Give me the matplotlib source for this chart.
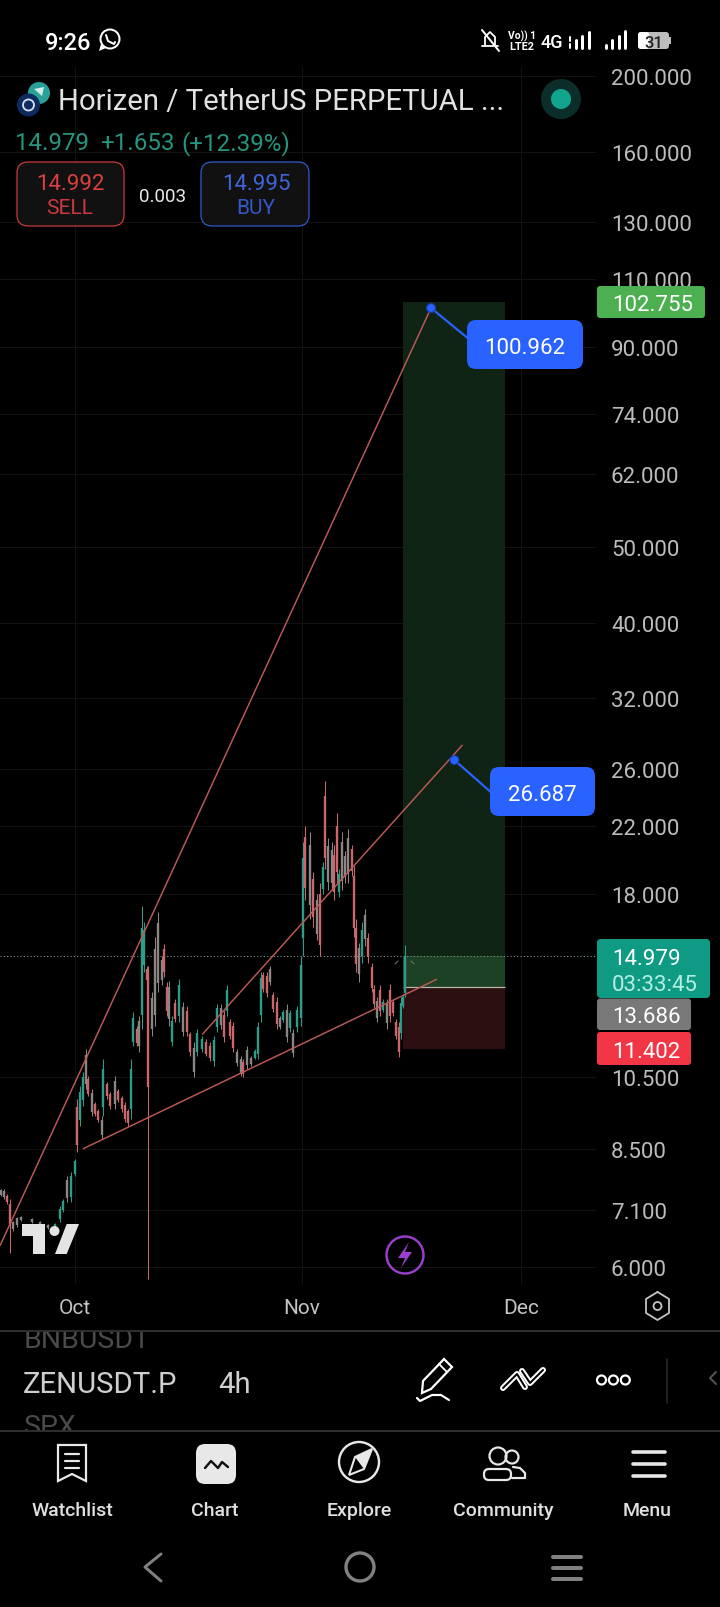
"""ZENUSDT.P 4h chart screenshot, rebuilt: candles on a log price axis plus the phone UI around it."""
import matplotlib
matplotlib.use("Agg")
import matplotlib.pyplot as plt
from matplotlib.patches import Circle, FancyBboxPatch, Polygon, Rectangle

plt.rcParams["font.family"] = ["Roboto", "DejaVu Sans"]

# days counted from 1 Oct
candle_days = [
    -10.1, -9.7, -9.3, -8.9, -8.5, -7.9, -7.4, -5.9, -4.8, -3.7,
    -2.7, -2.05, -1.64, -1.09, -0.55, 0.0, 0.27, 0.68, 1.09, 1.5,
    1.78, 2.33, 2.74, 3.15, 3.69, 3.83, 4.38, 4.79, 5.47, 5.88,
    6.43, 6.84, 7.25, 7.66, 7.93, 8.48, 8.76, 9.17, 9.44, 9.85,
    9.99, 10.53, 10.94, 11.35, 11.9, 12.17, 12.59, 12.86, 13.27, 13.68,
    14.23, 14.77, 15.32, 15.73, 16.28, 16.69, 17.37, 17.92, 18.47, 19.01,
    19.43, 19.97, 20.38, 20.79, 21.2, 21.61, 22.16, 22.71, 22.98, 23.53,
    24.08, 24.62, 25.03, 25.44, 25.72, 26.27, 26.68, 27.09, 27.63, 28.04,
    28.45, 29.0, 29.41, 29.82, 30.37, 30.92, 31.19, 31.46, 32.15, 32.56,
    33.11, 33.52, 33.93, 34.2, 34.61, 35.16, 35.43, 35.84, 36.11, 36.53,
    36.94, 37.35, 37.89, 38.17, 38.44, 38.85, 39.26, 39.67, 40.08, 40.63,
    40.9, 41.31, 41.72, 42.13, 42.68, 43.09, 43.5, 43.91, 44.32, 44.6,
    44.87, 45.14,
]
highs = [
    7.55, 7.55, 7.44, 7.33, 6.88, 6.96, 6.98, 6.94, 6.88, 6.82,
    6.84, 7.18, 7.33, 7.84, 7.95, 8.25, 9.85, 10.23, 10.66, 11.4,
    10.53, 10.14, 9.76, 9.56, 9.36, 11.07, 10.35, 10.05, 10.53, 10.14,
    9.94, 9.76, 9.56, 11.07, 12.7, 12.2, 12.57, 17.35, 16.55, 14.55,
    14.55, 13.5, 15.85, 17.05, 15.0, 15.55, 13.9, 13.92, 12.57, 13.2,
    14.0, 13.1, 12.95, 12.0, 11.63, 12.1, 11.85, 11.74, 11.63, 11.85,
    13.0, 13.0, 12.8, 13.75, 12.46, 12.35, 11.4, 11.17, 11.07, 11.5,
    11.17, 11.4, 12.35, 14.3, 14.3, 14.3, 14.55, 13.5, 13.3, 12.57,
    12.8, 13.0, 12.8, 12.1, 12.95, 15.0, 21.0, 22.0, 21.6, 19.2,
    18.0, 18.6, 19.8, 25.1, 21.2, 21.0, 20.8, 22.85, 19.35, 21.6,
    20.4, 21.8, 20.8, 19.55, 16.7, 15.6, 16.55, 17.2, 16.05, 14.7,
    13.75, 13.3, 13.75, 13.2, 13.2, 13.8, 13.2, 12.46, 12.35, 13.3,
    13.4, 15.5,
]
lows = [
    7.4, 7.33, 7.22, 6.25, 6.68, 6.76, 6.88, 6.84, 6.76, 6.72,
    6.68, 6.86, 7.06, 7.27, 7.27, 7.84, 8.42, 9.1, 9.65, 10.14,
    9.94, 9.36, 9.36, 9.2, 8.75, 9.36, 9.85, 9.56, 9.56, 9.76,
    9.48, 9.2, 9.1, 9.28, 11.5, 11.5, 11.3, 12.1, 14.3, 13.85,
    5.8, 11.85, 12.2, 13.5, 13.75, 14.1, 12.57, 12.2, 11.5, 12.35,
    12.35, 11.85, 11.85, 11.17, 10.5, 11.17, 11.3, 11.17, 11.0, 10.85,
    12.0, 12.1, 11.63, 12.57, 11.74, 11.3, 10.85, 10.53, 10.5, 10.75,
    10.85, 11.07, 11.07, 12.35, 13.5, 13.3, 13.75, 12.7, 12.1, 12.1,
    12.35, 11.63, 12.0, 11.13, 12.0, 12.2, 15.0, 17.7, 16.7, 16.35,
    15.7, 15.0, 18.0, 19.35, 18.2, 18.2, 17.7, 18.6, 17.85, 18.2,
    18.6, 18.6, 19.0, 15.85, 14.3, 13.9, 14.7, 15.45, 14.7, 13.5,
    12.85, 12.35, 12.57, 12.7, 12.1, 12.35, 12.57, 11.74, 11.13, 11.74,
    12.85, 13.3,
]
body_tops = [
    7.52, 7.5, 7.4, 7.22, 6.85, 6.93, 6.96, 6.92, 6.86, 6.8,
    6.81, 7.13, 7.29, 7.76, 7.85, 8.19, 9.6, 10.05, 10.5, 11.2,
    10.45, 10.02, 9.7, 9.5, 9.26, 10.75, 10.28, 9.98, 10.38, 10.08,
    9.87, 9.68, 9.49, 10.75, 12.5, 12.1, 12.4, 16.3, 16.2, 14.45,
    14.4, 13.25, 15.3, 16.5, 14.8, 15.3, 13.7, 13.7, 12.4, 13.05,
    13.75, 12.9, 12.75, 11.9, 11.45, 11.95, 11.75, 11.65, 11.52, 11.7,
    12.85, 12.85, 12.6, 13.55, 12.35, 12.2, 11.3, 11.07, 10.97, 11.38,
    11.12, 11.35, 12.15, 14.05, 14.18, 14.15, 14.42, 13.38, 13.1, 12.5,
    12.73, 12.8, 12.68, 11.95, 12.8, 14.6, 20.0, 21.3, 20.8, 18.8,
    17.7, 18.0, 19.5, 24.0, 20.7, 20.5, 20.2, 22.0, 19.1, 21.0,
    20.1, 21.2, 20.55, 19.0, 16.3, 15.35, 16.2, 16.9, 15.8, 14.5,
    13.6, 13.15, 13.55, 13.1, 13.0, 13.55, 13.1, 12.35, 12.15, 13.05,
    13.3, 14.979,
]
body_bottoms = [
    7.42, 7.38, 7.26, 6.82, 6.72, 6.8, 6.9, 6.86, 6.78, 6.74,
    6.71, 6.91, 7.1, 7.35, 7.37, 7.9, 8.6, 9.25, 9.8, 10.3,
    10.0, 9.48, 9.42, 9.25, 8.85, 9.6, 9.92, 9.63, 9.7, 9.82,
    9.55, 9.28, 9.18, 9.55, 11.65, 11.6, 11.5, 12.6, 14.6, 13.95,
    10.2, 12.1, 12.6, 13.85, 13.95, 14.3, 12.75, 12.45, 11.65, 12.47,
    12.55, 12.0, 12.0, 11.3, 10.65, 11.3, 11.4, 11.25, 11.1, 11.0,
    12.15, 12.25, 11.8, 12.75, 11.85, 11.45, 10.93, 10.62, 10.58, 10.87,
    10.9, 11.12, 11.25, 12.6, 13.62, 13.45, 13.87, 12.82, 12.27, 12.17,
    12.42, 11.82, 12.12, 11.27, 12.15, 12.5, 15.8, 18.3, 17.4, 16.8,
    16.0, 15.5, 18.25, 20.0, 18.65, 18.6, 18.1, 19.2, 18.1, 18.7,
    18.9, 19.1, 19.25, 16.3, 14.65, 14.2, 15.0, 15.75, 14.95, 13.65,
    13.0, 12.5, 12.75, 12.8, 12.3, 12.55, 12.67, 11.85, 11.3, 11.95,
    12.95, 13.45,
]
# u = up, d = down, g = the washed-out grey where the screenshot blends neighbours
candle_tones = (
    "ggddgggggg" "uuuguuduug" "dgddguddgd" "ddduudguud" "dggggddgud" "ugddguuddu"
    "ugduddggdg" "guuuddgddg" "uguguuudgd" "gdudggddug" "ggdddgugdd" "dgdugddddu" "uu"
)
TONE_COLORS = {"u": "#2f9c8a", "d": "#c9676b", "g": "#8b8584"}

price_ticks = [200, 160, 130, 110, 90, 74, 62, 50, 40, 32, 26, 22, 18, 10.5, 8.5, 7.1, 6]
month_days = [0, 31, 61]
month_names = ["Oct", "Nov", "Dec"]

last_price = 14.979
entry_price = 13.686
stop_price = 11.402
target_price = 102.755
position_days = [44.87, 58.8]

# trend lines: (days, prices)
line_a_days, line_a_prices = [-10.26, 48.7], [6.39, 100.962]
line_b_days, line_b_prices = [17.4, 53.0], [11.9, 27.9]
line_c_days, line_c_prices = [1.09, 49.5], [8.5, 14.0]
point_a = (48.7, 100.962)
point_b = (51.9, 26.687)

W, H = 720, 1608
fig = plt.figure(figsize=(W / 100, H / 100), dpi=100, facecolor="black")

# ---- chart ----
ax = fig.add_axes([0, 1 - 1285 / H, 596 / W, (1285 - 68) / H], facecolor="black")
ax.set_yscale("log")
ax.set_xlim(-10.26, 71.27)
ax.set_ylim(5.71, 205.2)
for spine in ax.spines.values():
    spine.set_visible(False)
ax.yaxis.tick_right()
ax.set_yticks(price_ticks)
ax.set_yticklabels([f"{p:.3f}" for p in price_ticks])
ax.minorticks_off()
ax.set_xticks(month_days)
ax.set_xticklabels(month_names)
ax.tick_params(axis="y", length=0, pad=10.8, labelsize=16, labelcolor="#bcbcbc")
ax.tick_params(axis="x", length=0, pad=10, labelsize=15, labelcolor="#c4c4c4")
ax.grid(True, color="#121212", lw=0.8)
ax.set_axisbelow(True)

ax.fill_between(position_days, last_price, target_price, color="#0f2414", lw=0, zorder=1)
ax.fill_between(position_days, entry_price, last_price, color="#1d4124", lw=0, zorder=1)
ax.fill_between(position_days, stop_price, entry_price, color="#2c0f10", lw=0, zorder=1)
ax.hlines(entry_price, *position_days, color="#b9b4a4", lw=0.9, zorder=2)
ax.axhline(last_price, color="#7c968e", lw=0.8, ls=(0, (1, 2)), zorder=2)

candle_colors = [TONE_COLORS[t] for t in candle_tones]
ax.vlines(candle_days, lows, highs, colors=candle_colors, lw=0.75, zorder=3)
ax.vlines(candle_days, body_bottoms, body_tops, colors=candle_colors, lw=1.7, zorder=3)

for days, prices in [(line_a_days, line_a_prices), (line_b_days, line_b_prices),
                     (line_c_days, line_c_prices)]:
    ax.plot(days, prices, color="#bd5a58", lw=1.05, zorder=4, solid_capstyle="butt")

# ---- phone UI on a pixel overlay ----
ui = fig.add_axes([0, 0, 1, 1], facecolor="none")
ui.set_xlim(0, W)
ui.set_ylim(H, 0)
ui.axis("off")


def px_of(day, price):
    x, y = ax.transData.transform((day, price))
    return x, H - y


def text(x, y, s, size, color="#e0e0e0", ha="left", weight="normal", **kw):
    ui.text(x, y, s, fontsize=size, color=color, ha=ha, va="center_baseline", weight=weight, **kw)


def box(x0, y0, x1, y1, fc, ec="none", r=6, lw=1.0, z=5):
    ui.add_patch(FancyBboxPatch((x0, y0), x1 - x0, y1 - y0, boxstyle=f"round,pad=0,rounding_size={r}",
                                fc=fc, ec=ec, lw=lw, zorder=z))


def line(xs, ys, color="#e8e8e8", lw=2.0, z=6, **kw):
    ui.plot(xs, ys, color=color, lw=lw * 0.72, zorder=z, solid_capstyle="round", **kw)


def ring(x, y, r, color="#e8e8e8", lw=2.0, fc="none", z=6):
    ui.add_patch(Circle((x, y), r, fc=fc, ec=color, lw=lw * 0.72, zorder=z))


# blue price notes on the trend lines
BLUE = "#2962ff"
for point, (bx0, by0, bx1, by1), anchor, label in [
    (point_a, (467, 321, 583, 370), (470, 341), "100.962"),
    (point_b, (490, 768, 595, 817), (493, 795), "26.687"),
]:
    px, py = px_of(*point)
    line([px, anchor[0]], [py, anchor[1]], color=BLUE, lw=2.2, z=4)
    ring(px, py, 4.5, color="#163a9c", lw=1.2, fc=BLUE, z=7)
    box(bx0, by0, bx1, by1, BLUE, r=9)
    text((bx0 + bx1) / 2, (by0 + by1) / 2 + 1, label, 16, color="white", ha="center", zorder=8)

# countdown ticks by the last candle
line([395, 398], [965, 962], color="#777777", lw=1)
line([411, 414], [962, 965], color="#777777", lw=1)

# price tags
box(597, 287, 705, 319, "#4caf50", r=3)
text(612, 303, "102.755", 16, color="white", zorder=8)
box(597, 940, 710, 999, "#0f9a83", r=4)
text(612, 957, "14.979", 16, color="white", zorder=8)
text(612, 983, "03:33:45", 16, color="#b6efe2", zorder=8)
box(597, 999.5, 691, 1031, "#787878", r=3)
text(612, 1015, "13.686", 16, color="white", zorder=8)
box(597, 1033, 691, 1066, "#f23645", r=3)
text(612, 1050, "11.402", 16, color="white", zorder=8)

# status bar
text(45, 41, "9:26", 17, color="white", weight="medium")
ring(110, 40, 9.5, color="white", lw=2)
ui.add_patch(Polygon([[101, 45], [99, 52], [106, 49]], fc="white", zorder=6))
line([106, 108, 114, 115], [36, 42, 45, 43], color="white", lw=2)
line([482, 499], [31, 52], color="white", lw=2)
line([485, 485, 490, 495, 495], [46, 38, 33, 38, 46], color="white", lw=1.8)
line([482, 498], [47, 47], color="white", lw=1.8)
text(522, 35, "Vo)) 1", 7.4, color="white", ha="center", weight="bold")
text(522, 46, "LTE2", 7.8, color="white", ha="center", weight="bold")
text(552, 41, "4G", 13, color="white", ha="center", weight="medium")
for top, bx in zip([41, 37, 33], [576, 582, 589]):
    line([bx, bx], [49, top], color="white", lw=3)
line([570, 570], [38, 42], color="white", lw=2)
line([570, 570], [45, 49], color="white", lw=2)
for top, bx in zip([46, 41, 37, 32], [606, 612, 619, 625]):
    line([bx, bx], [49, top], color="white", lw=3)
box(638, 33, 669, 50, "#bdbdbd", r=3)
box(638, 33, 649, 50, "white", r=3, z=5)
ui.add_patch(Rectangle((669, 38), 2, 7, fc="#bdbdbd", zorder=5))
text(654, 41.5, "31", 12, color="#222222", ha="center", weight="medium", zorder=7)

# symbol header
ring(39, 94, 11, color="#2aa198", lw=0, fc="#2aa198")
ui.add_patch(Polygon([[34, 90], [44, 88], [42, 97]], fc="#cfeeea", zorder=6))
ring(28.5, 106, 11.5, color="#0e2a5e", lw=0, fc="#0e2a5e", z=7)
ring(28.5, 106, 5.5, color="#d8e2f4", lw=1.8, z=8)
text(58, 99, "Horizen / TetherUS PERPETUAL ...", 21.2, color="#e2e2e2")
ring(561, 100, 20, color="#0c2e2a", lw=0, fc="#0c2e2a")
ring(561, 100, 10, color="#12a58e", lw=0, fc="#12a58e", z=7)
text(15, 141, "14.979", 17.4, color="#26957f")
text(100, 141, "+1.653", 17.4, color="#26957f")
text(181, 141, "(+12.39%)", 17.4, color="#26957f")

box(17, 163, 124, 227, "#111111", ec="#c93a3f", r=11, lw=0.9)
text(70, 182, "14.992", 16, color="#d9403f", ha="center", zorder=8)
text(70, 207, "SELL", 15, color="#c93a3f", ha="center", zorder=8)
text(163, 195, "0.003", 13.6, color="#e8e8e8", ha="center")
box(201, 163, 309, 227, "#111111", ec="#3358c8", r=11, lw=0.9)
text(256, 182, "14.995", 16, color="#3f66d8", ha="center", zorder=8)
text(256, 207, "BUY", 15, color="#3358c8", ha="center", zorder=8)

# chart watermark and buttons
WM = "#e4e4e4"
ui.add_patch(Polygon([[22, 1225], [45, 1225], [45, 1255], [33, 1255], [33, 1237], [22, 1237]], fc=WM, zorder=6))
ring(54.5, 1232, 5, color=WM, lw=0, fc=WM)
ui.add_patch(Polygon([[66.7, 1225], [79, 1225], [66.7, 1255], [55, 1255]], fc=WM, zorder=6))
ring(405, 1256, 18.5, color="#9c3fd0", lw=2.4)
ui.add_patch(Polygon([[409, 1243], [398, 1259], [405, 1259], [401, 1269], [412, 1253], [405, 1253]], fc="#9c3fd0", zorder=6))
line([657.5, 669, 669, 657.5, 646, 646, 657.5], [1293, 1300, 1314, 1321, 1314, 1300, 1293], color="#c4c4c4", lw=1.8)
ring(657.5, 1307, 4, color="#c4c4c4", lw=1.8)

# symbol strip
text(24, 1338, "BNBUSDT", 20.5, color="#4a4a4a")
text(24, 1425, "SPX", 20.5, color="#4a4a4a")
ui.add_patch(Rectangle((0, 1318), W, 13, fc="black", zorder=5))
ui.add_patch(Rectangle((0, 1432), W, 12, fc="black", zorder=5))
line([0, W], [1332, 1332], color="#2e2e2e", lw=2, z=6)
line([0, W], [1432, 1432], color="#2e2e2e", lw=2, z=6)
text(23, 1382, "ZENUSDT.P", 21.2, color="#cfcfcf")
text(218, 1382, "4h", 21.2, color="#cfcfcf")

ui.add_patch(Polygon([[422, 1394], [423, 1382], [444, 1360], [452, 1368], [431, 1390]], fc="none", ec="white", lw=1.6, zorder=6))
line([439, 447], [1365, 1373], color="white", lw=1.8)
line([417, 420, 432, 441, 449], [1399, 1402, 1396, 1396, 1401], color="white", lw=2.2)
line([503, 517, 525], [1389, 1375, 1388], color="white", lw=6)
line([503, 517, 525], [1389, 1375, 1388], color="black", lw=2, z=7)
line([522, 530, 543], [1372, 1384, 1371], color="white", lw=6)
line([522, 530, 543], [1372, 1384, 1371], color="black", lw=2, z=7)
for cx in [601.5, 613.4, 625.3]:
    ring(cx, 1381, 4.5, color="white", lw=2.2)
line([667, 667], [1360, 1404], color="#2a2a2a", lw=1.6)
line([716, 710, 716], [1373, 1379, 1385], color="#555555", lw=2)

# bottom navigation
for x, label in zip([72, 215, 359.5, 503, 647.4], ["Watchlist", "Chart", "Explore", "Community", "Menu"]):
    text(x, 1509.5, label, 14, color="#e0e0e0", ha="center", weight="medium")

ui.add_patch(Polygon([[58, 1446], [86, 1446], [86, 1482], [72, 1475], [58, 1482]], fc="none", ec="#e8e8e8", lw=1.6, zorder=6))
for by in [1455, 1462, 1469]:
    line([65, 79], [by, by], lw=2.2)
box(196, 1445, 236, 1485, "#e8e8e8", r=9)
line([205, 211, 218, 222, 228], [1469, 1462, 1469, 1463, 1468], color="#111111", lw=2.4)
ring(359, 1463, 20, lw=2.4)
ui.add_patch(Polygon([[372, 1450], [364, 1470], [349, 1476], [355, 1458]], fc="none", ec="#e8e8e8", lw=1.5, zorder=6))
ui.add_patch(Polygon([[372, 1450], [355, 1458], [364, 1470]], fc="#e8e8e8", zorder=6))
ring(498, 1457, 8.5, lw=2.2)
ring(512, 1458, 6.5, lw=2.2)
box(484, 1470, 511, 1481, "black", ec="#e8e8e8", r=5, lw=1.6, z=6)
line([513, 520, 525, 525, 512], [1468, 1469, 1474, 1479, 1479], lw=2.2)
for by in [1453, 1465, 1477]:
    line([633, 665], [by, by], lw=3.6)

# android nav bar
line([161, 145, 161], [1555, 1568, 1582], color="#808080", lw=3)
ring(360, 1568, 14, color="#808080", lw=3.4)
for by in [1558, 1569, 1580]:
    line([553, 581], [by, by], color="#808080", lw=4)

fig.savefig("out.png", dpi=100, facecolor="black")
